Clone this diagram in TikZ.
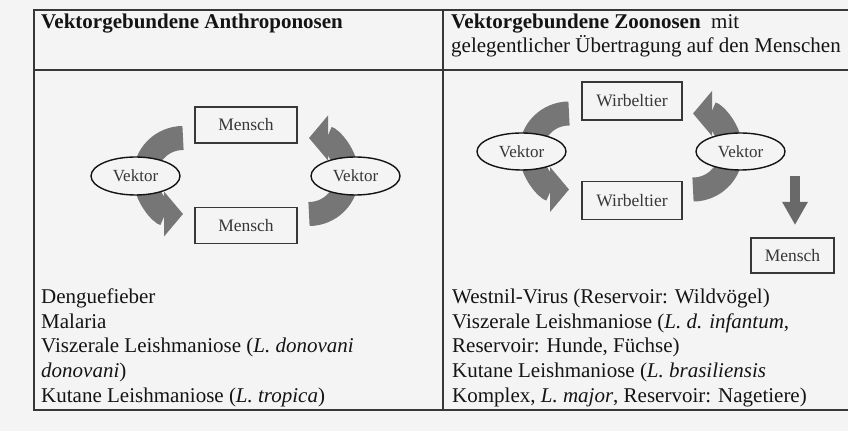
\documentclass[tikz,border=0pt]{standalone}
\usepackage{fontspec}
\setmainfont{Liberation Serif}
\usetikzlibrary{shapes.geometric,arrows.meta}
\definecolor{bg}{RGB}{244,244,244}
\definecolor{rule}{RGB}{55,55,55}
\definecolor{arrowgray}{RGB}{118,118,118}
\definecolor{downgray}{RGB}{105,105,105}
\definecolor{ink}{RGB}{20,20,20}
\tikzset{
  tline/.style={draw=rule, line width=2pt},
  boxnode/.style={draw=rule, line width=1.5pt, fill=bg, rectangle, inner sep=0pt, text=ink!85, font=\fontsize{17.5}{19}\selectfont},
  vek/.style={draw=ink, line width=1.4pt, fill=bg, ellipse, minimum width=89pt, minimum height=38pt, inner sep=0pt, text=ink!85, font=\fontsize{17}{19}\selectfont},
  bigarrow/.style={draw=arrowgray, line width=24pt, -{Triangle[width=44pt,length=19pt]}},
  txt/.style={anchor=base west, inner sep=0pt, text=ink, font=\fontsize{21}{24.5}\selectfont},
}
\begin{document}
\begin{tikzpicture}[x=1pt,y=1pt]
\fill[bg] (0,0) rectangle (848,431);
\useasboundingbox (0,0) rectangle (848,431);
% table
\coordinate (tl) at (34,421);
\coordinate (tr) at (850,421);
\coordinate (hl) at (34,361);
\coordinate (hr) at (850,361);
\coordinate (bl) at (34,21);
\coordinate (br) at (850,21);
\coordinate (mt) at (443,421);
\coordinate (mb) at (443,21);
\draw[tline] (tr) -- (tl) -- (bl) -- (br);
\draw[tline] (hl) -- (hr);
\draw[tline] (mt) -- (mb);
% headers
\node[txt] (h1) at (41,402) {\textbf{Vektorgebundene Anthroponosen}};
\node[txt] (h2) at (451,402) {\textbf{Vektorgebundene Zoonosen}\ \ mit};
\node[txt] (h3) at (451,378) {gelegentlicher Übertragung auf den Menschen};
% left diagram arrows
\coordinate (la) at (183,293);
\coordinate (lb) at (309,217);
\draw[bigarrow] (la) arc[start angle=90, end angle=270, radius=38];
\draw[bigarrow] (lb) arc[start angle=-90, end angle=90, radius=38];
% right diagram arrows
\coordinate (ra) at (569,317.5);
\coordinate (rb) at (693,241.5);
\draw[bigarrow] (ra) arc[start angle=90, end angle=270, radius=38];
\draw[bigarrow] (rb) arc[start angle=-90, end angle=90, radius=38];
% left nodes
\node[boxnode, minimum width=102pt, minimum height=36pt] (m1) at (246,306) {Mensch};
\node[boxnode, minimum width=102pt, minimum height=36pt] (m2) at (246,205.5) {Mensch};
\node[vek] (v1) at (135.5,255) {Vektor};
\node[vek] (v2) at (355.5,255) {Vektor};
% right nodes
\node[boxnode, minimum width=100pt, minimum height=38pt] (w1) at (632,330) {Wirbeltier};
\node[boxnode, minimum width=100pt, minimum height=38pt] (w2) at (632,230.5) {Wirbeltier};
\node[vek, minimum height=37pt] (v3) at (521.5,279.5) {Vektor};
\node[vek, minimum height=37pt] (v4) at (740.5,279.5) {Vektor};
\node[boxnode, minimum width=83pt, minimum height=35pt] (m3) at (792.5,175.5) {Mensch};
% down arrow
\coordinate (da) at (795,255);
\coordinate (db) at (795,206);
\draw[draw=downgray, line width=10pt, -{Triangle[width=24pt,length=23pt]}] (da) -- (db);
% left text
\node[txt] (l1) at (41,127) {Denguefieber};
\node[txt] (l2) at (41,102.5) {Malaria};
\node[txt] (l3) at (41,78) {Viszerale Leishmaniose (\textit{L. donovani}};
\node[txt] (l4) at (41,53.5) {\textit{donovani})};
\node[txt] (l5) at (41,29) {Kutane Leishmaniose (\textit{L. tropica})};
% right text
\node[txt] (r1) at (452,127) {Westnil-Virus (Reservoir: Wildvögel)};
\node[txt] (r2) at (452,102.5) {Viszerale Leishmaniose (\textit{L. d. infantum},};
\node[txt] (r3) at (452,78) {Reservoir: Hunde, Füchse)};
\node[txt] (r4) at (452,53.5) {Kutane Leishmaniose (\textit{L. brasiliensis}};
\node[txt] (r5) at (452,29) {Komplex, \textit{L. major}, Reservoir: Nagetiere)};
\end{tikzpicture}
\end{document}
